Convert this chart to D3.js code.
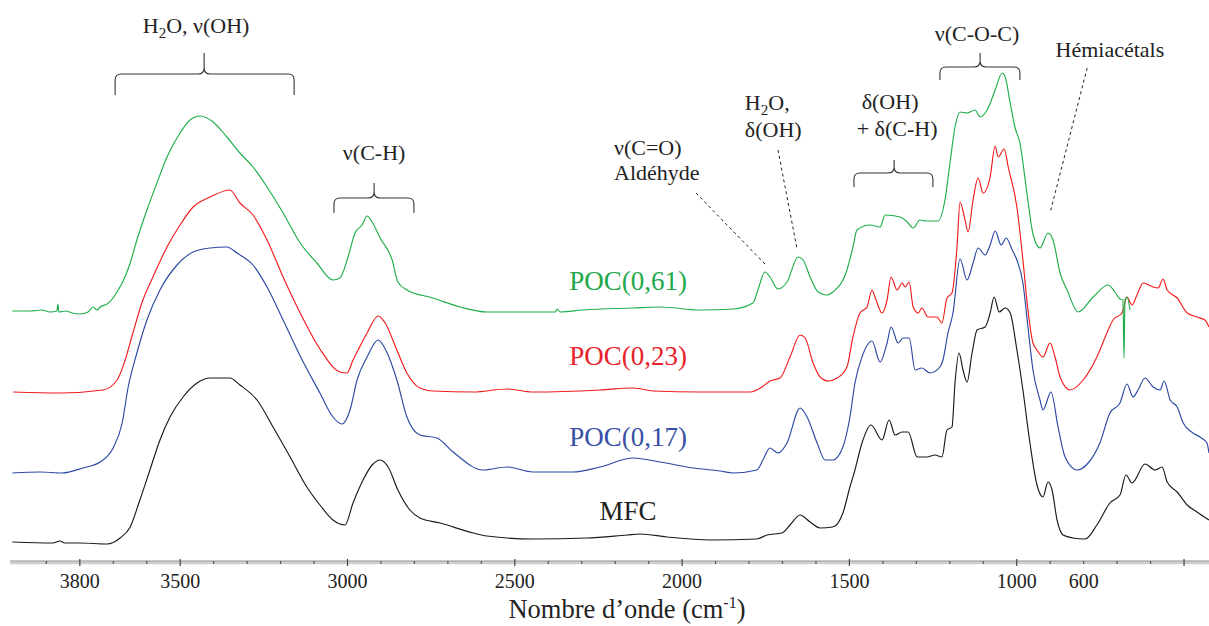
<!DOCTYPE html>
<html>
<head>
<meta charset="utf-8">
<script src="https://cdn.jsdelivr.net/npm/d3@7"></script>
<style>
  html, body { margin: 0; padding: 0; background: #fff; }
  svg { display: block; }
  svg text { font-family: "Liberation Serif", "DejaVu Serif", serif !important; }
</style>
</head>
<body>
<svg id="chart" width="1209" height="626" font-family="Liberation Serif, serif"></svg>
<script>
// ---------------- DATA (wavenumber cm-1, absorbance a.u. incl. stacking offset) ----------------
const seriesNames = ["POC(0,61)", "POC(0,23)", "POC(0,17)", "MFC"];

const poc061 = [[4000,2.52],[3947,2.52],[3911,2.53],[3888,2.51],[3867,2.52],[3864,2.59],[3861,2.51],[3840,2.52],[3822,2.50],[3798,2.49],[3774,2.51],[3759,2.56],[3747,2.53],[3738,2.56],[3717,2.59],[3699,2.65],[3684,2.73],[3672,2.80],[3648,3.00],[3628,3.23],[3598,3.53],[3568,3.80],[3538,4.06],[3499,4.30],[3469,4.43],[3439,4.47],[3400,4.41],[3359,4.26],[3320,4.10],[3281,3.96],[3239,3.76],[3191,3.50],[3140,3.20],[3090,3.00],[3042,2.83],[3021,2.85],[2997,3.06],[2976,3.30],[2955,3.38],[2940,3.47],[2925,3.41],[2901,3.25],[2865,3.03],[2848,2.81],[2821,2.73],[2743,2.65],[2662,2.56],[2582,2.51],[2444,2.51],[2378,2.51],[2372,2.54],[2363,2.51],[2295,2.53],[2145,2.55],[2064,2.56],[1945,2.53],[1846,2.54],[1787,2.60],[1772,2.73],[1751,2.91],[1736,2.86],[1712,2.74],[1685,2.81],[1652,3.06],[1637,3.03],[1616,2.86],[1592,2.71],[1565,2.68],[1548,2.71],[1506,2.93],[1488,3.16],[1476,3.33],[1437,3.38],[1407,3.36],[1392,3.48],[1347,3.46],[1326,3.41],[1308,3.35],[1288,3.43],[1267,3.42],[1234,3.42],[1213,3.63],[1198,4.00],[1183,4.36],[1168,4.51],[1147,4.50],[1123,4.53],[1108,4.46],[1087,4.53],[1063,4.73],[1042,4.90],[1033,4.86],[1018,4.60],[1004,4.36],[989,4.20],[968,3.70],[950,3.29],[929,3.15],[905,3.30],[890,3.23],[869,2.90],[848,2.73],[815,2.51],[770,2.66],[726,2.78],[705,2.71],[690,2.64],[681,2.63],[678,2.05],[675,2.63],[669,2.66],[660,2.53]];

const poc023 = [[3998,1.71],[3858,1.70],[3729,1.73],[3687,1.83],[3663,2.03],[3640,2.30],[3610,2.63],[3580,2.86],[3538,3.16],[3499,3.38],[3460,3.56],[3409,3.66],[3350,3.73],[3320,3.60],[3281,3.48],[3239,3.23],[3191,2.86],[3140,2.50],[3081,2.14],[3021,1.91],[3000,1.90],[2982,2.03],[2967,2.13],[2940,2.30],[2907,2.47],[2886,2.40],[2851,2.13],[2821,1.90],[2782,1.75],[2743,1.72],[2623,1.71],[2522,1.74],[2444,1.71],[2244,1.73],[2145,1.75],[2085,1.72],[1945,1.71],[1795,1.71],[1760,1.76],[1736,1.82],[1706,1.85],[1676,2.06],[1646,2.28],[1631,2.25],[1607,2.00],[1586,1.86],[1562,1.82],[1535,1.85],[1506,1.96],[1488,2.26],[1467,2.50],[1446,2.56],[1431,2.73],[1422,2.66],[1401,2.50],[1386,2.63],[1374,2.86],[1356,2.73],[1341,2.80],[1332,2.76],[1320,2.81],[1308,2.56],[1293,2.50],[1282,2.55],[1264,2.46],[1237,2.46],[1222,2.40],[1207,2.65],[1192,2.70],[1177,3.16],[1168,3.61],[1153,3.43],[1144,3.31],[1129,3.63],[1114,3.85],[1099,3.70],[1078,3.86],[1063,4.17],[1054,4.06],[1036,4.14],[1024,3.96],[998,3.56],[980,3.03],[965,2.53],[950,2.20],[938,2.13],[920,2.06],[899,2.20],[884,2.06],[869,1.86],[839,1.73],[800,1.83],[759,2.06],[729,2.30],[711,2.43],[684,2.50],[669,2.66],[654,2.58],[639,2.68],[621,2.80],[591,2.76],[576,2.75],[561,2.84],[549,2.73],[519,2.65],[489,2.50],[460,2.46],[436,2.43],[424,2.36]];

const poc017 = [[4000,0.90],[3917,0.91],[3852,0.90],[3789,0.95],[3738,1.01],[3699,1.15],[3672,1.40],[3654,1.76],[3628,2.10],[3598,2.43],[3559,2.73],[3508,2.98],[3460,3.11],[3409,3.15],[3359,3.16],[3329,3.10],[3281,2.98],[3239,2.76],[3191,2.43],[3140,2.07],[3081,1.70],[3042,1.46],[3015,1.39],[2991,1.53],[2970,1.83],[2940,2.06],[2907,2.23],[2880,2.10],[2851,1.83],[2821,1.46],[2782,1.28],[2731,1.25],[2683,1.11],[2594,0.93],[2522,0.96],[2444,0.91],[2325,0.91],[2244,0.96],[2145,1.05],[2064,1.01],[1966,0.95],[1885,0.92],[1846,0.90],[1775,0.93],[1757,1.03],[1736,1.15],[1712,1.10],[1685,1.20],[1646,1.55],[1625,1.46],[1595,1.20],[1571,1.03],[1548,1.03],[1518,1.16],[1497,1.46],[1482,1.80],[1461,2.06],[1431,2.22],[1407,2.01],[1386,2.20],[1374,2.36],[1353,2.20],[1338,2.25],[1320,2.25],[1302,1.93],[1282,1.95],[1258,1.90],[1228,1.96],[1219,2.03],[1204,2.30],[1189,2.50],[1168,3.04],[1147,2.83],[1129,3.00],[1114,3.15],[1093,3.08],[1078,3.18],[1063,3.32],[1045,3.18],[1030,3.25],[1012,3.13],[998,3.03],[980,2.80],[965,2.36],[950,1.93],[929,1.63],[920,1.53],[896,1.71],[875,1.36],[854,1.06],[818,0.93],[785,1.00],[750,1.20],[720,1.50],[690,1.60],[669,1.79],[651,1.66],[636,1.73],[615,1.85],[591,1.76],[570,1.73],[558,1.82],[540,1.63],[519,1.56],[501,1.40],[472,1.30],[451,1.26],[430,1.20],[424,1.10]];

const mfc = [[4000,0.21],[3879,0.20],[3858,0.22],[3843,0.20],[3798,0.20],[3717,0.19],[3678,0.25],[3648,0.36],[3619,0.63],[3589,0.93],[3559,1.23],[3529,1.46],[3490,1.66],[3448,1.80],[3409,1.85],[3350,1.85],[3320,1.78],[3269,1.63],[3221,1.36],[3170,1.06],[3120,0.76],[3081,0.58],[3042,0.43],[3006,0.38],[2982,0.60],[2952,0.83],[2925,0.98],[2901,1.03],[2877,0.96],[2848,0.73],[2812,0.53],[2782,0.45],[2722,0.40],[2623,0.30],[2582,0.27],[2444,0.24],[2283,0.25],[2163,0.28],[2124,0.29],[2044,0.26],[1915,0.23],[1775,0.24],[1745,0.28],[1700,0.30],[1676,0.38],[1646,0.48],[1616,0.41],[1586,0.35],[1548,0.36],[1518,0.50],[1497,0.76],[1482,0.93],[1461,1.20],[1434,1.38],[1401,1.23],[1380,1.43],[1362,1.28],[1341,1.31],[1323,1.31],[1296,1.06],[1267,1.06],[1243,1.08],[1222,1.06],[1207,1.33],[1192,1.36],[1183,1.80],[1171,2.10],[1159,1.93],[1147,1.81],[1132,2.10],[1117,2.33],[1093,2.36],[1078,2.50],[1066,2.66],[1051,2.51],[1033,2.55],[1018,2.50],[998,2.13],[980,1.73],[959,1.20],[938,0.78],[920,0.66],[905,0.81],[893,0.73],[878,0.43],[860,0.28],[830,0.25],[794,0.24],[759,0.38],[720,0.60],[690,0.68],[672,0.88],[654,0.80],[615,0.99],[585,0.93],[564,0.96],[549,0.81],[519,0.71],[489,0.58],[460,0.51],[424,0.43]];

const seriesData = [poc061, poc023, poc017, mfc];

// axis ticks
const majorTicks = [3800, 3500, 3000, 2500, 2000, 1500, 1000, 500];
const minorTicks = d3.range(3900, 400, -100).filter(d => !majorTicks.includes(d));
const tickLabelValues = [3800, 3500, 3000, 2500, 2000, 1500, 1000, 800];
const tickLabelTexts  = ["3800", "3500", "3000", "2500", "2000", "1500", "1000", "600"];

// ---------------- STYLE ----------------
const FONT = "'Liberation Serif', 'DejaVu Serif', serif";
const lineColors  = ["#1fae4b", "#f21c1c", "#2c48a3", "#1a1a1a"];
const labelColors = ["#1fa84a", "#e8222a", "#3750a6", "#222222"];

// ---------------- SCALES ----------------
const svg = d3.select("#chart");
const W = 1209, H = 626;
svg.append("rect").attr("width", W).attr("height", H).attr("fill", "#fff");

const x = d3.scaleLinear().domain([4000, 400]).range([12.4, 1217]);
const y = d3.scaleLinear().domain([0, 5.5]).range([563, 13]);
const axisY = 562;

// ---------------- LINES ----------------
const line = d3.line().x(d => x(d[0])).y(d => y(d[1])).curve(d3.curveMonotoneX);
const plot = svg.append("g");
[3, 2, 1, 0].forEach(i => {
  plot.append("path")
    .datum(seriesData[i])
    .attr("d", line)
    .attr("fill", "none")
    .attr("stroke", lineColors[i])
    .attr("stroke-width", 1.15)
    .attr("stroke-linejoin", "round");
});

// ---------------- SERIES LABELS ----------------
const seriesLabelPos = [[2160, 2.73], [2160, 1.98], [2160, 1.17], [2160, 0.43]];
seriesNames.forEach((n, i) => {
  svg.append("text")
    .attr("x", x(seriesLabelPos[i][0]))
    .attr("y", y(seriesLabelPos[i][1]))
    .attr("text-anchor", "middle")
    .attr("font-size", 27)
    .attr("fill", labelColors[i])
    .text(n);
});

// ---------------- AXIS ----------------
const axisG = svg.append("g").attr("transform", `translate(0,${axisY})`);
axisG.append("line").attr("x1", 10).attr("x2", W).attr("y1", 0.5).attr("y2", 0.5)
  .attr("stroke", "#cfcfcf").attr("stroke-width", 3.5);
axisG.append("line").attr("x1", 10).attr("x2", W).attr("y1", -1).attr("y2", -1)
  .attr("stroke", "#9c9c9c").attr("stroke-width", 1);

const majorAxis = d3.axisBottom(x).tickValues(majorTicks).tickFormat("").tickSizeOuter(0).tickSize(7);
const gMaj = axisG.append("g").call(majorAxis);
gMaj.select(".domain").remove();
gMaj.selectAll(".tick line").attr("y1", -3).attr("y2", 4).attr("stroke", "#444").attr("stroke-width", 1.2);

const minorAxis = d3.axisBottom(x).tickValues(minorTicks).tickFormat("").tickSizeOuter(0).tickSize(3);
const gMin = axisG.append("g").call(minorAxis);
gMin.select(".domain").remove();
gMin.selectAll(".tick line").attr("y1", -1).attr("y2", 2).attr("stroke", "#555").attr("stroke-width", 1.2);

const labelAxis = d3.axisBottom(x).tickValues(tickLabelValues)
  .tickFormat((d, i) => tickLabelTexts[i]).tickSize(0).tickSizeOuter(0);
const gLab = axisG.append("g").call(labelAxis);
gLab.attr("font-family", null).attr("font-size", null);
gLab.select(".domain").remove();
gLab.selectAll(".tick line").remove();
gLab.selectAll(".tick text")
  .attr("y", 26).attr("dy", 0)
  .attr("font-size", 20).attr("fill", "#222");
gMaj.attr("font-family", null); gMin.attr("font-family", null);

// axis title
const title = svg.append("text")
  .attr("x", 627).attr("y", 618)
  .attr("text-anchor", "middle")
  .attr("font-size", 26.5).attr("fill", "#222");
title.append("tspan").text("Nombre d\u2019onde (cm");
title.append("tspan").attr("font-size", 16).attr("dy", -10).text("-1");
title.append("tspan").attr("dy", 10).text(")");

// ---------------- ANNOTATIONS ----------------
const annG = svg.append("g").attr("fill", "#222").attr("font-size", 22);

function brace(w1, w2, wc, vEnd, vMid, vPeak) {
  const x1 = x(w1), x2 = x(w2), xc = x(wc);
  const ye = y(vEnd), ym = y(vMid), yp = y(vPeak);
  const r = 6;
  const p = `M${x1},${ye} L${x1},${ym + r} Q${x1},${ym} ${x1 + r},${ym} L${xc - r},${ym} Q${xc},${ym} ${xc},${ym - r} L${xc},${yp}` +
            ` M${xc},${ym - r} Q${xc},${ym} ${xc + r},${ym} L${x2 - r},${ym} Q${x2},${ym} ${x2},${ym + r} L${x2},${ye}`;
  svg.append("path").attr("d", p).attr("fill", "none").attr("stroke", "#333").attr("stroke-width", 1.1);
}
function dashed(wa, va, wb, vb) {
  svg.append("line")
    .attr("x1", x(wa)).attr("y1", y(va)).attr("x2", x(wb)).attr("y2", y(vb))
    .attr("stroke", "#222").attr("stroke-width", 1).attr("stroke-dasharray", "3,3");
}

// H2O, v(OH)
const t1 = annG.append("text").attr("x", x(3451)).attr("y", y(5.30)).attr("text-anchor", "middle");
t1.append("tspan").text("H");
t1.append("tspan").attr("font-size", 15).attr("dy", 5).text("2");
t1.append("tspan").attr("dy", -5).text("O, \u03BD(OH)");
brace(3693, 3158, 3427, 4.68, 4.89, 5.10);

// v(C-H)
annG.append("text").attr("x", x(2919)).attr("y", y(4.03)).attr("text-anchor", "middle").text("\u03BD(C-H)");
brace(3039, 2800, 2919, 3.50, 3.65, 3.80);

// v(C=O) Aldéhyde
annG.append("text").attr("x", x(2202)).attr("y", y(4.08)).text("\u03BD(C=O)");
annG.append("text").attr("x", x(2202)).attr("y", y(3.83)).text("Ald\u00E9hyde");
dashed(1957, 3.70, 1748, 2.98);

// H2O, δ(OH)
const t2 = annG.append("text").attr("x", x(1811)).attr("y", y(4.53));
t2.append("tspan").text("H");
t2.append("tspan").attr("font-size", 15).attr("dy", 5).text("2");
t2.append("tspan").attr("dy", -5).text("O,");
annG.append("text").attr("x", x(1811)).attr("y", y(4.26)).text("\u03B4(OH)");
dashed(1712, 4.13, 1655, 3.14);

// δ(OH) + δ(C-H)
annG.append("text").attr("x", x(1377)).attr("y", y(4.54)).attr("text-anchor", "middle").text("\u03B4(OH)");
annG.append("text").attr("x", x(1356)).attr("y", y(4.27)).attr("text-anchor", "middle").text("+ \u03B4(C-H)");
brace(1485, 1249, 1365, 3.76, 3.90, 4.03);

// v(C-O-C)
annG.append("text").attr("x", x(1117)).attr("y", y(5.22)).attr("text-anchor", "middle").text("\u03BD(C-O-C)");
brace(1228, 989, 1108, 4.83, 4.96, 5.10);

// Hémiacétals
annG.append("text").attr("x", x(720)).attr("y", y(5.06)).attr("text-anchor", "middle").text("H\u00E9miac\u00E9tals");
dashed(788, 4.95, 899, 3.50);

// force serif font on every text
svg.selectAll("text").style("font-family", FONT);
</script>
</body>
</html>
